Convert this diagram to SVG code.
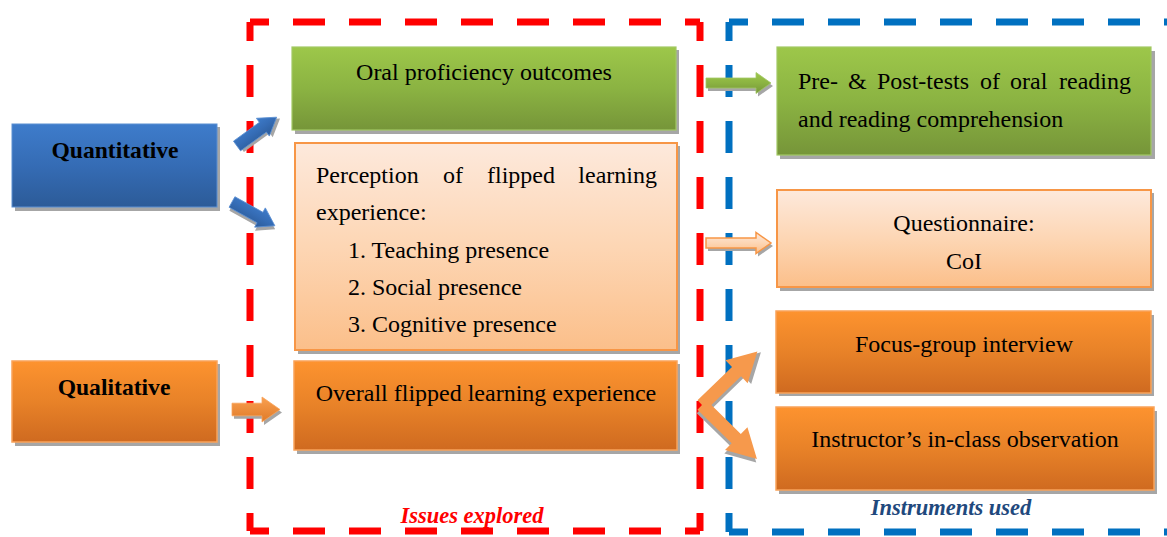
<svg xmlns="http://www.w3.org/2000/svg" width="1167" height="537" viewBox="0 0 1167 537">
<defs>
<linearGradient id="gGreen" x1="0" y1="0" x2="0" y2="1"><stop offset="0" stop-color="#9dc74a"/><stop offset="0.5" stop-color="#8bb342"/><stop offset="1" stop-color="#769539"/></linearGradient>
<linearGradient id="gOrange" x1="0" y1="0" x2="0" y2="1"><stop offset="0" stop-color="#fd932f"/><stop offset="0.5" stop-color="#e88228"/><stop offset="1" stop-color="#cf6a20"/></linearGradient>
<linearGradient id="gPeach" x1="0" y1="0" x2="0" y2="1"><stop offset="0" stop-color="#fde9dc"/><stop offset="0.5" stop-color="#fdd6b4"/><stop offset="1" stop-color="#fbbf8a"/></linearGradient>
<linearGradient id="gBlue" x1="0" y1="0" x2="0" y2="1"><stop offset="0" stop-color="#3e7ccb"/><stop offset="0.5" stop-color="#356cb5"/><stop offset="1" stop-color="#2c5b98"/></linearGradient>
<linearGradient id="gArrowO" x1="0" y1="0" x2="0" y2="1"><stop offset="0" stop-color="#f9a050"/><stop offset="1" stop-color="#e07a28"/></linearGradient>
</defs>
<style>
.t{font-family:"Liberation Serif","Times New Roman",serif;font-size:24px;fill:#000}
.b{font-weight:bold;font-size:23.6px}
.lab{font-family:"Liberation Serif","Times New Roman",serif;font-size:22.5px;font-weight:bold;font-style:italic}
.sh{fill:#a6a6a6}
.green{fill:url(#gGreen);stroke:#a2c865;stroke-width:1.2}
.orange{fill:url(#gOrange);stroke:#f9a35a;stroke-width:1.5}
.peach{fill:url(#gPeach);stroke:#f79646;stroke-width:2}
.blue{fill:url(#gBlue);stroke:#5b8fd2;stroke-width:1}
.frameR{fill:none;stroke:#ff0000;stroke-width:7;stroke-dasharray:32 24}
.frameB{fill:none;stroke:#0070c0;stroke-width:7;stroke-dasharray:32 24}
</style>
<rect width="1167" height="537" fill="#ffffff"/>

<g id="frame-issues">
<path class="frameR" d="M250,22 H700" stroke-dashoffset="13"/>
<path class="frameR" d="M700,22 V531" stroke-dashoffset="13"/>
<path class="frameR" d="M250,22 V531" stroke-dashoffset="13"/>
<path class="frameR" d="M250,531 H700" stroke-dashoffset="13"/>
<text class="lab" x="472" y="523" text-anchor="middle" fill="#ff0000">Issues explored</text>
</g>

<g id="frame-instruments">
<path class="frameB" d="M729,22 H1180" stroke-dashoffset="13"/>
<path class="frameB" d="M729,22 V532" stroke-dashoffset="13"/>
<path class="frameB" d="M729,532 H1180" stroke-dashoffset="13"/>
<text class="lab" x="951" y="515" text-anchor="middle" fill="#1f497d">Instruments used</text>
</g>

<g id="quantitative">
<rect class="sh" x="15" y="127" width="205" height="84"/>
<rect class="blue" x="12" y="124" width="205" height="83"/>
<text class="t b" x="115" y="158" text-anchor="middle">Quantitative</text>
</g>

<g id="qualitative">
<rect class="sh" x="15" y="364" width="205" height="82"/>
<rect class="orange" x="12" y="361" width="205" height="81"/>
<text class="t b" x="114" y="395" text-anchor="middle">Qualitative</text>
</g>

<g id="oral-proficiency">
<rect class="sh" x="295" y="50" width="384" height="84"/>
<rect class="green" x="292" y="47" width="384" height="83"/>
<text class="t" x="484" y="80" text-anchor="middle">Oral proficiency outcomes</text>
</g>

<g id="perception">
<rect class="sh" x="298" y="146" width="382" height="208"/>
<rect class="peach" x="295" y="143" width="382" height="207"/>
<text class="t" y="183"><tspan x="316">Perception</tspan><tspan x="443">of</tspan><tspan x="487">flipped</tspan><tspan x="657" text-anchor="end">learning</tspan></text>
<text class="t" x="316" y="220">experience:</text>
<text class="t" x="348" y="258">1. Teaching presence</text>
<text class="t" x="348" y="295">2. Social presence</text>
<text class="t" x="348" y="332">3. Cognitive presence</text>
</g>

<g id="overall">
<rect class="sh" x="297" y="364" width="383" height="90"/>
<rect class="orange" x="294" y="361" width="383" height="89"/>
<text class="t" x="486" y="401" text-anchor="middle">Overall flipped learning experience</text>
</g>

<g id="pre-post-tests">
<rect class="sh" x="780" y="51" width="375" height="108"/>
<rect class="green" x="777" y="47" width="374" height="108"/>
<text class="t" y="88.5"><tspan x="798">Pre-</tspan><tspan x="848">&amp;</tspan><tspan x="877">Post-tests</tspan><tspan x="980">of</tspan><tspan x="1010">oral</tspan><tspan x="1131" text-anchor="end">reading</tspan></text>
<text class="t" x="798" y="126.5">and reading comprehension</text>
</g>

<g id="questionnaire">
<rect class="sh" x="780" y="193" width="374" height="98"/>
<rect class="peach" x="777" y="190" width="374" height="97"/>
<text class="t" x="964" y="231" text-anchor="middle">Questionnaire:</text>
<text class="t" x="964" y="269" text-anchor="middle">CoI</text>
</g>

<g id="focus-group">
<rect class="sh" x="779" y="315" width="375" height="81"/>
<rect class="orange" x="776" y="311" width="375" height="82"/>
<text class="t" x="964" y="352" text-anchor="middle">Focus-group interview</text>
</g>

<g id="observation">
<rect class="sh" x="779" y="411" width="378" height="83"/>
<rect class="orange" x="776" y="407" width="378" height="83"/>
<text class="t" x="965" y="447" text-anchor="middle">Instructor’s in-class observation</text>
</g>

<g id="connectors">
<g transform="translate(237,146) rotate(-36)">
<polygon class="sh" transform="translate(2,3)" points="0,-6 32,-6 32,-11 49,0 32,11 32,6 0,6"/>
<polygon fill="url(#gBlue)" stroke="#5b8fd2" stroke-width="0.8" points="0,-6 32,-6 32,-11 49,0 32,11 32,6 0,6"/>
</g>
<g transform="translate(232,202) rotate(29)">
<polygon class="sh" transform="translate(2,3)" points="0,-6 32,-6 32,-11 49,0 32,11 32,6 0,6"/>
<polygon fill="url(#gBlue)" stroke="#5b8fd2" stroke-width="0.8" points="0,-6 32,-6 32,-11 49,0 32,11 32,6 0,6"/>
</g>
<g transform="translate(232,409.5)">
<polygon class="sh" transform="translate(2,3)" points="0,-6.3 30,-6.3 30,-12.5 48,0 30,12.5 30,6.3 0,6.3"/>
<polygon fill="url(#gArrowO)" stroke="#f9a35a" stroke-width="0.8" points="0,-6.3 30,-6.3 30,-12.5 48,0 30,12.5 30,6.3 0,6.3"/>
</g>
<g transform="translate(706,83)">
<polygon class="sh" transform="translate(2,3)" points="0,-5 50,-5 50,-10.5 65,0 50,10.5 50,5 0,5"/>
<polygon fill="url(#gGreen)" stroke="#a2c865" stroke-width="0.8" points="0,-5 50,-5 50,-10.5 65,0 50,10.5 50,5 0,5"/>
</g>
<g transform="translate(706,243)">
<polygon class="sh" transform="translate(2,3)" points="0,-5 50,-5 50,-10.5 65,0 50,10.5 50,5 0,5"/>
<polygon fill="url(#gPeach)" stroke="#f79646" stroke-width="1.5" points="0,-5 50,-5 50,-10.5 65,0 50,10.5 50,5 0,5"/>
</g>
<g transform="translate(702,405) rotate(-44)">
<polygon class="sh" transform="translate(2,3)" points="0,-6.5 48,-6.5 48,-16 77,0 48,16 48,6.5 0,6.5"/>
</g>
<g transform="translate(702,405) rotate(44.5)">
<polygon class="sh" transform="translate(2,3)" points="0,-6.5 48,-6.5 48,-16 77,0 48,16 48,6.5 0,6.5"/>
</g>
<g transform="translate(702,405) rotate(-44)">
<polygon fill="#f6994c" points="0,-6.5 48,-6.5 48,-16 77,0 48,16 48,6.5 0,6.5"/>
</g>
<g transform="translate(702,405) rotate(44.5)">
<polygon fill="#f6994c" points="0,-6.5 48,-6.5 48,-16 77,0 48,16 48,6.5 0,6.5"/>
</g>
</g>
</svg>
